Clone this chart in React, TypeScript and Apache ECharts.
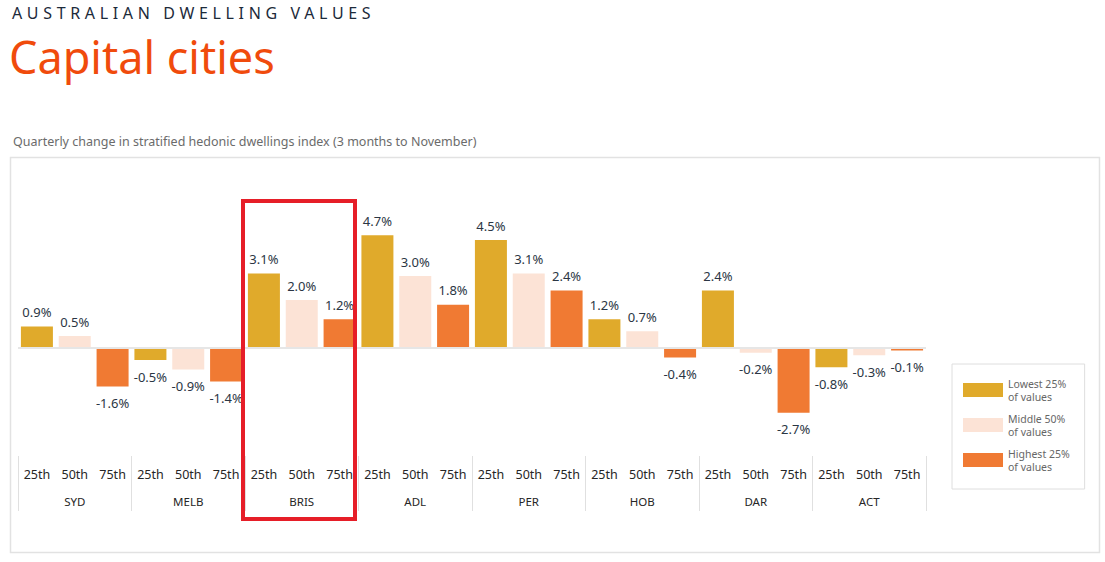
import React, { useEffect, useRef } from "react";
import * as echarts from "echarts";

const cities = ["SYD", "MELB", "BRIS", "ADL", "PER", "HOB", "DAR", "ACT"];
const percentiles = ["25th", "50th", "75th"];
const lowest25 = [0.9, -0.5, 3.1, 4.7, 4.5, 1.2, 2.4, -0.8];
const middle50 = [0.5, -0.9, 2.0, 3.0, 3.1, 0.7, -0.2, -0.3];
const highest25 = [-1.6, -1.4, 1.2, 1.8, 2.4, -0.4, -2.7, -0.1];
const seriesNames = ["Lowest 25%\nof values", "Middle 50%\nof values", "Highest 25%\nof values"];
const seriesColors = ["#e0aa2b", "#fce3d6", "#f07a33"];

const FONT = '"Noto Sans", sans-serif';

export default function App() {
  const ref = useRef<HTMLDivElement>(null);
  useEffect(() => {
    if (!ref.current) return;
    const chart = echarts.init(ref.current, undefined, { renderer: "svg" });
    const categories: string[] = [];
    cities.forEach(() => percentiles.forEach((p) => categories.push(p)));
    const groups = [lowest25, middle50, highest25];
    const series = groups.map((vals, gi) => ({
      type: "bar",
      name: seriesNames[gi],
      barWidth: 32,
      barGap: "-100%",
      itemStyle: { color: seriesColors[gi] },
      data: categories.map((_, i) => {
        if (i % 3 !== gi) return "-";
        const v = vals[Math.floor(i / 3)];
        return {
          value: v,
          label: { position: v >= 0 ? "top" : "bottom", distance: v >= 0 ? 8 : 10 },
        };
      }),
      label: {
        show: true,
        fontFamily: FONT,
        fontSize: 13,
        color: "#2b3644",
        formatter: (p: any) => `${Number(p.value).toFixed(1)}%`,
      },
      markLine:
        gi === 0
          ? {
              silent: true,
              symbol: "none",
              label: { show: false },
              lineStyle: { color: "#e6e6e6", width: 2, type: "solid" },
              data: [{ yAxis: 0 }],
            }
          : undefined,
      z: 3,
    }));
    chart.setOption({
      animation: false,
      textStyle: { fontFamily: FONT },
      grid: { left: 18, right: 179, top: 156, bottom: 106 },
      xAxis: [
        {
          type: "category",
          data: categories,
          position: "bottom",
          axisLine: { show: false },
          axisTick: { show: false },
          axisLabel: { margin: 12, fontSize: 12.5, color: "#262626", fontFamily: FONT, interval: 0 },
        },
        {
          type: "category",
          data: cities,
          position: "bottom",
          axisLine: { show: false },
          axisTick: { show: true, length: 55, lineStyle: { color: "#e0e0e0", width: 1 } },
          axisLabel: { margin: 39, fontSize: 11.5, color: "#262626", fontFamily: FONT, interval: 0 },
        },
      ],
      yAxis: {
        type: "value",
        min: -4.5,
        max: 8,
        show: false,
        splitLine: { show: false },
      },
      legend: {
        orient: "vertical",
        left: 952,
        top: 364,
        padding: [13, 15, 16, 11],
        itemWidth: 40,
        itemHeight: 14,
        itemGap: 9,
        borderColor: "#dedede",
        borderWidth: 1,
        textStyle: { fontSize: 10.5, color: "#666", lineHeight: 13, fontFamily: FONT },
        data: seriesNames.map((n) => ({ name: n, icon: "rect" })),
      },
      series,
      graphic: [
        {
          type: "text",
          left: 12,
          top: 5,
          style: {
            text: "AUSTRALIAN DWELLING VALUES",
            font: `400 16px ${FONT}`,
            fill: "#1c2a3a",
          },
        },
        {
          type: "text",
          left: 9,
          top: 34,
          style: {
            text: "Capital cities",
            font: `400 45px ${FONT}`,
            fill: "#f04b0c",
          },
        },
        {
          type: "text",
          left: 13,
          top: 135,
          style: {
            text: "Quarterly change in stratified hedonic dwellings index (3 months to November)",
            font: `400 12.5px ${FONT}`,
            fill: "#6b6b6b",
          },
        },
        {
          type: "rect",
          shape: { x: 10.5, y: 157.5, width: 1089, height: 395 },
          style: { fill: "none", stroke: "#e2e2e2", lineWidth: 1.5 },
          silent: true,
          z: -1,
        },
        {
          type: "rect",
          shape: { x: 243, y: 201, width: 112, height: 318 },
          style: { fill: "none", stroke: "#e61e28", lineWidth: 4 },
          silent: true,
          z: 10,
        },
      ],
    });
    const applySpacing = () => {
      const texts = ref.current?.querySelectorAll("text") || [];
      texts.forEach((t) => {
        if (t.textContent === "AUSTRALIAN DWELLING VALUES") {
          t.setAttribute("letter-spacing", "4.65");
        }
      });
    };
    applySpacing();
    chart.on("finished", applySpacing);
    return () => chart.dispose();
  }, []);
  return (
    <div
      ref={ref}
      style={{ position: "absolute", left: 0, top: 0, width: 1105, height: 562, background: "#fff" }}
    />
  );
}
